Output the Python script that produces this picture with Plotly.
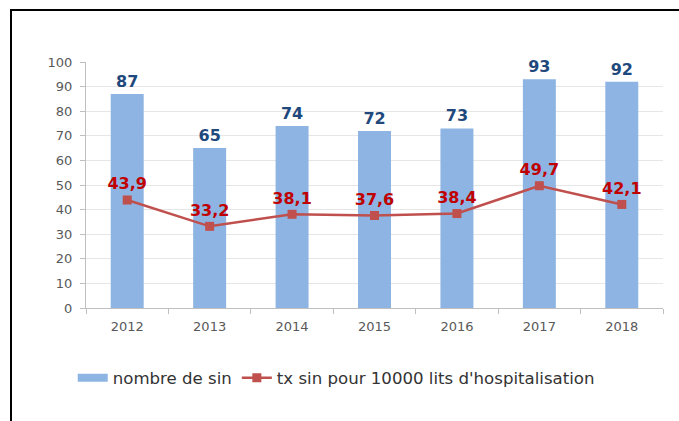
import plotly.graph_objects as go

years = ["2012", "2013", "2014", "2015", "2016", "2017", "2018"]
nombre_sin = [87, 65, 74, 72, 73, 93, 92]
tx_sin = [43.9, 33.2, 38.1, 37.6, 38.4, 49.7, 42.1]
y_ticks = [0, 10, 20, 30, 40, 50, 60, 70, 80, 90, 100]

W, H = 679, 421
L, R, T, B = 86, 16, 62, 113
PW, PH = W - L - R, H - T - B

def px_x(p):
    return (p - L) / PW

def px_y(p):
    return (H - B - p) / PH

FONT = "DejaVu Sans"
BAR_COLOR = "#8DB4E2"
LINE_COLOR = "#C0504D"

fig = go.Figure()
fig.add_trace(go.Bar(
    x=years, y=nombre_sin, name="nombre de sin", showlegend=False,
    marker=dict(color=BAR_COLOR, line=dict(width=0)), width=0.4,
    text=nombre_sin, textposition="outside", cliponaxis=False,
    textfont=dict(family=FONT, size=16, color="#1F497D", weight="bold"),
))
# legend stand-in for the bar series (wide flat rectangle)
fig.add_trace(go.Scatter(
    x=[None], y=[None], mode="lines", name="nombre de sin",
    line=dict(color=BAR_COLOR, width=8),
))
fig.add_trace(go.Scatter(
    x=years, y=tx_sin, name="tx sin pour 10000 lits d'hospitalisation",
    mode="lines+markers+text",
    line=dict(color=LINE_COLOR, width=2.5),
    marker=dict(symbol="square", size=9, color=LINE_COLOR),
    texttemplate="%{y:.1f}", textposition="top center", cliponaxis=False,
    textfont=dict(family=FONT, size=16, color="#C00000", weight="bold"),
))

fig.update_layout(
    width=W, height=H,
    margin=dict(l=L, r=R, t=T, b=B),
    paper_bgcolor="white", plot_bgcolor="white",
    separators=", ",
    font=dict(family=FONT, size=13, color="#595959"),
    bargap=0.6,
    legend=dict(
        orientation="h", x=-0.023, xanchor="left", y=px_y(378), yanchor="middle",
        font=dict(family=FONT, size=16.6, color="#333333"),
        itemwidth=30, tracegroupgap=0, traceorder="normal",
    ),
    xaxis=dict(
        type="category", showgrid=False,
        showline=True, linecolor="#BFBFBF", linewidth=1,
        ticks="outside", tickson="boundaries", ticklen=5, tickcolor="#BFBFBF",
        tickfont=dict(family=FONT, size=13, color="#595959"),
        ticklabelstandoff=6,
    ),
    yaxis=dict(
        range=[0, 100], tickvals=y_ticks, showgrid=True, gridcolor="#E6E6E6",
        showline=True, linecolor="#BFBFBF", linewidth=1,
        ticks="outside", ticklen=5, tickcolor="#BFBFBF",
        tickfont=dict(family=FONT, size=13, color="#595959"),
        ticklabelstandoff=5,
        zeroline=False,
    ),
    shapes=[
        dict(type="rect", xref="paper", yref="paper",
             x0=px_x(11), x1=px_x(720), y0=px_y(10), y1=px_y(460),
             line=dict(color="black", width=2), fillcolor="rgba(0,0,0,0)",
             layer="above"),
    ],
)

fig.write_html(
    "out.html",
    config={"displayModeBar": False},
    post_script="document.body.style.margin='0';document.body.style.overflow='hidden';",
)
